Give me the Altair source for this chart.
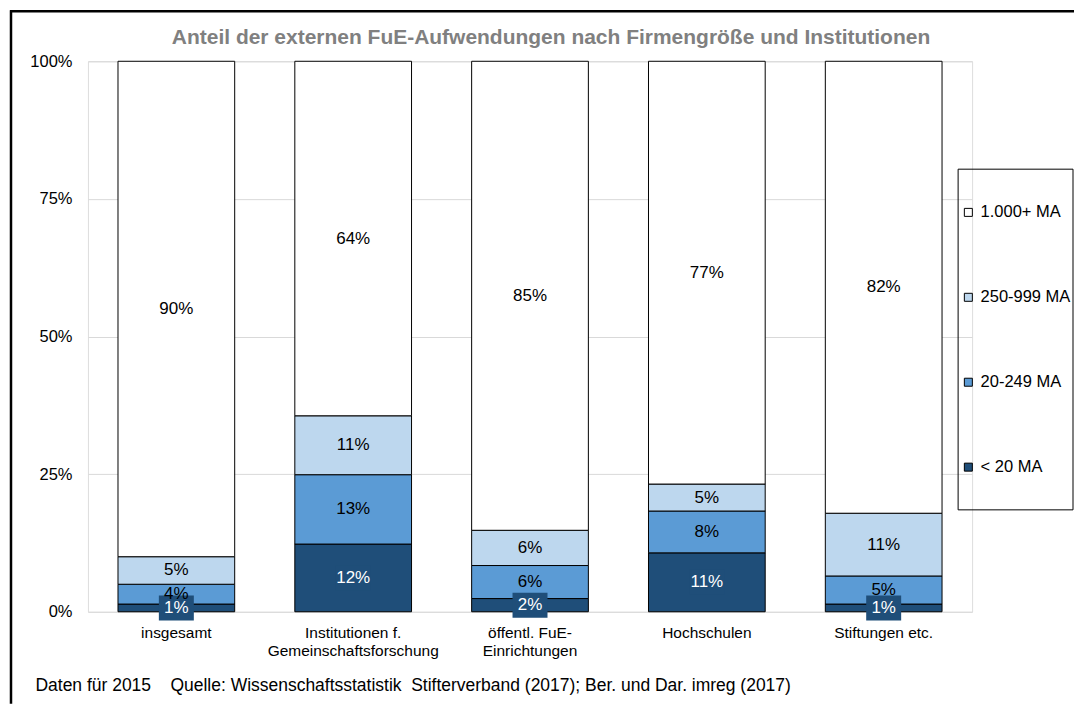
import altair as alt
import pandas as pd

FONT = "Liberation Sans"

categories = ["insgesamt", "Institutionen f.\nGemeinschaftsforschung", "öffentl. FuE-\nEinrichtungen", "Hochschulen", "Stiftungen etc."]
series = ["< 20 MA", "20-249 MA", "250-999 MA", "1.000+ MA"]
v_lt20 = [1.4, 12.3, 2.4, 10.7, 1.4]
v_20_249 = [3.6, 12.6, 6.0, 7.6, 5.1]
v_250_999 = [5.0, 10.7, 6.4, 4.9, 11.4]
v_1000 = [90.0, 64.4, 85.2, 76.8, 82.1]
colors = ["#1F4E79", "#5B9BD5", "#BDD7EE", "#FFFFFF"]

title_text = "Anteil der externen FuE-Aufwendungen nach Firmengröße und Institutionen"
footer_text = "Daten für 2015\u00a0\u00a0\u00a0\u00a0Quelle: Wissenschaftsstatistik\u00a0\u00a0Stifterverband (2017); Ber. und Dar. imreg (2017)"

rows = []
for s_idx, (s, vals) in enumerate(zip(series, [v_lt20, v_20_249, v_250_999, v_1000])):
    for c, v in zip(categories, vals):
        rows.append({"cat": c, "ser": s, "ord": s_idx, "value": v})
df = pd.DataFrame(rows)

legend_order = series[::-1]
legend_colors = colors[::-1]

x_enc = alt.X(
    "cat:N", sort=categories,
    scale=alt.Scale(paddingInner=0.34, paddingOuter=0.17),
    axis=alt.Axis(
        title=footer_text, labelExpr="split(datum.label, '\\n')", labelAngle=0,
        domain=False, ticks=False, grid=False, labelFontSize=15.5, labelFont=FONT,
        labelColor="black", labelPadding=14, labelLineHeight=18,
        titleX=-53, titleY=74, titleAlign="left", titleAnchor="start",
        titleBaseline="middle", titleFontWeight="normal", titleFontSize=17.5,
        titleFont=FONT, titleColor="black",
    ),
)
y_scale = alt.Scale(domain=[0, 100])

base = alt.Chart(df).transform_stack(
    stack="value", as_=["v0", "v1"], groupby=["cat"],
    sort=[alt.SortField("ord", order="ascending")],
).transform_calculate(
    mid="(datum.v0 + datum.v1) / 2",
    lab="format(datum.value, '.0f') + '%'",
)

bars = base.mark_bar(stroke="black", strokeWidth=1).encode(
    x=x_enc,
    y=alt.Y("v0:Q", scale=y_scale, axis=alt.Axis(
        values=[0, 25, 50, 75, 100], labelExpr="datum.value + '%'", title=None,
        domain=False, ticks=False, gridColor="#D9D9D9", labelFontSize=16.5,
        labelFont=FONT, labelColor="black", labelPadding=16,
    )),
    y2="v1:Q",
    color=alt.Color("ser:N", scale=alt.Scale(domain=legend_order, range=legend_colors),
                    legend=alt.Legend(
                        orient="none", legendX=873, legendY=143, title=None,
                        labelFontSize=16.5, labelFont=FONT, labelColor="black",
                        symbolType="square", symbolSize=64, symbolStrokeColor="black",
                        symbolStrokeWidth=1, symbolOpacity=1, rowPadding=68,
                        labelOffset=4, padding=0,
                    )),
)

boxes = base.transform_filter(alt.datum.ser == "< 20 MA").mark_point(
    shape="M-1.4,-1L1.4,-1L1.4,1L-1.4,1Z", size=625, filled=True,
    color="#1F4E79", opacity=1, strokeWidth=0,
).encode(x=x_enc, y=alt.Y("mid:Q", scale=y_scale))

texts = base.mark_text(fontSize=17, font=FONT, baseline="middle").encode(
    x=x_enc,
    y=alt.Y("mid:Q", scale=y_scale),
    text="lab:N",
    color=alt.condition(alt.datum.ser == "< 20 MA", alt.value("white"), alt.value("black")),
)

frame_df = pd.DataFrame({"k": [0]})
legend_frame = alt.Chart(frame_df).mark_rect(fillOpacity=0, stroke="black", strokeWidth=1).encode(
    x=alt.value(871), x2=alt.value(986), y=alt.value(108), y2=alt.value(449)
)
frame_top = alt.Chart(frame_df).mark_rule(stroke="black", strokeWidth=2.5).encode(
    x=alt.value(-78), x2=alt.value(987), y=alt.value(-50)
)
frame_left = alt.Chart(frame_df).mark_rule(stroke="black", strokeWidth=2.5).encode(
    x=alt.value(-77), y=alt.value(-51), y2=alt.value(643)
)
title_mark = alt.Chart(frame_df).mark_text(
    text=title_text, fontSize=21, fontWeight="bold", color="#808080", font=FONT,
    align="center", baseline="alphabetic",
).encode(x=alt.value(463.5), y=alt.value(-17))

chart = alt.layer(bars, boxes, texts, legend_frame, frame_top, frame_left, title_mark).properties(
    width=885, height=551, padding=0,
).configure_view(stroke=None).configure(background="white")

chart.save("out.html", embed_options={"renderer": "svg", "actions": False})
